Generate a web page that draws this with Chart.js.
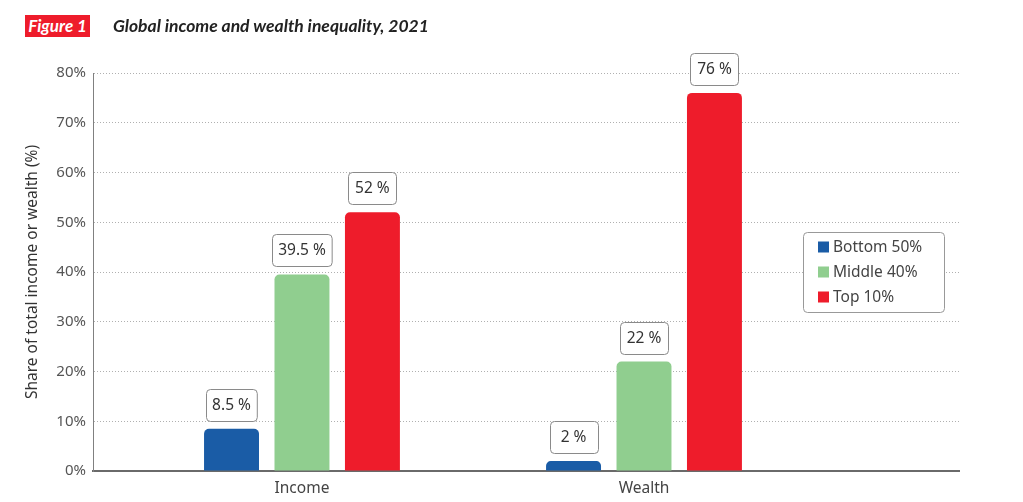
<!DOCTYPE html>
<html><head><meta charset="utf-8">
<script src="https://cdn.jsdelivr.net/npm/chart.js@4.4.0/dist/chart.umd.min.js"></script>
<style>
html,body{margin:0;padding:0;background:#fff;}
#wrap{position:relative;width:1023px;height:502px;overflow:hidden;}
canvas{position:absolute;left:0;top:0;}
#fig{position:absolute;left:25px;top:15px;width:65px;height:22px;background:#ee1c2b;color:#fff;font:italic bold 17px Lato;line-height:22px;text-align:center;}
#ttl{position:absolute;left:113px;top:15px;font:italic bold 17.5px Lato;color:#222;line-height:22px;}
</style></head>
<body><div id="wrap"><canvas id="c" width="1023" height="502"></canvas><div id="fig">Figure 1</div><div id="ttl">Global income and wealth inequality, 2021</div></div>
<script>
const categories = ['Income', 'Wealth'];
const seriesNames = ['Bottom 50%', 'Middle 40%', 'Top 10%'];
const bottom50 = [8.5, 2];
const middle40 = [39.5, 22];
const top10 = [52, 76];
const yTickValues = [0, 10, 20, 30, 40, 50, 60, 70, 80];
const seriesColors = ['#1a5ca6', '#90ce8f', '#ee1c2b'];
const seriesValues = [bottom50, middle40, top10];

Chart.defaults.font.family = "'Noto Sans', sans-serif";

const labelPlugin = {
  id: 'barLabels',
  afterDatasetsDraw(chart) {
    const ctx = chart.ctx;
    ctx.save();
    ctx.font = "15.5px 'Noto Sans'";
    ctx.textAlign = 'center';
    ctx.textBaseline = 'middle';
    chart.data.datasets.forEach((ds, di) => {
      const meta = chart.getDatasetMeta(di);
      meta.data.forEach((bar, i) => {
        const txt = ds.data[i].y + ' %';
        const w = Math.max(48, ctx.measureText(txt).width + 12);
        const h = 32;
        const bx = Math.round(bar.x - w / 2);
        const by = Math.round(bar.y - 8 - h);
        ctx.beginPath();
        ctx.roundRect(bx + 0.5, by + 0.5, w, h, 4);
        ctx.fillStyle = '#fff';
        ctx.fill();
        ctx.strokeStyle = '#8a8a8a';
        ctx.lineWidth = 1;
        ctx.stroke();
        ctx.fillStyle = '#333';
        ctx.fillText(txt, bar.x, by + h / 2 + 1);
      });
    });
    ctx.restore();
  }
};

const legendPlugin = {
  id: 'boxLegend',
  afterDraw(chart) {
    const ctx = chart.ctx;
    const a = chart.chartArea;
    const x = a.right - 156, y = a.top + 159, w = 141, h = 80;
    ctx.save();
    ctx.beginPath();
    ctx.roundRect(x + 0.5, y + 0.5, w, h, 4);
    ctx.fillStyle = '#fff';
    ctx.fill();
    ctx.strokeStyle = '#999';
    ctx.lineWidth = 1;
    ctx.stroke();
    ctx.font = "15.5px 'Noto Sans'";
    ctx.textBaseline = 'middle';
    ctx.textAlign = 'left';
    chart.data.datasets.forEach((ds, i) => {
      const cy = y + 15 + i * 25;
      ctx.fillStyle = ds.backgroundColor;
      ctx.fillRect(x + 15, cy - 5.5, 11, 11);
      ctx.fillStyle = '#444';
      ctx.fillText(ds.label, x + 30, cy + 1);
    });
    ctx.restore();
  }
};

new Chart(document.getElementById('c'), {
  type: 'bar',
  data: {
    datasets: seriesNames.map((name, s) => ({
      label: name,
      data: categories.map((c, i) => ({ x: i, y: seriesValues[s][i] })),
      backgroundColor: seriesColors[s],
      borderRadius: 5,
      borderSkipped: 'start',
      categoryPercentage: 0.618,
      barPercentage: 0.78
    }))
  },
  options: {
    responsive: false,
    animation: false,
    layout: { padding: { left: 10, right: 64, top: 73, bottom: 0 } },
    plugins: { legend: { display: false }, tooltip: { enabled: false } },
    scales: {
      x: {
        type: 'linear',
        offset: false,
        min: -0.611,
        max: 1.921,
        afterBuildTicks: s => { s.ticks = categories.map((c, i) => ({ value: i })); },
        afterFit: s => { s.height = 31; },
        ticks: {
          autoSkip: false, maxRotation: 0, padding: 8,
          color: '#444', font: { size: 15.5 },
          callback: v => categories[v] !== undefined ? categories[v] : ''
        },
        grid: { display: false, drawTicks: false, offset: false },
        border: { display: true, color: '#6a6a6a', width: 2 }
      },
      y: {
        min: 0, max: 80,
        afterBuildTicks: s => { s.ticks = yTickValues.map(v => ({ value: v })); },
        afterFit: s => { s.width = 83; },
        ticks: { padding: 7, color: '#555', font: { size: 15 }, callback: v => v + '%' },
        grid: { color: '#b0b0b0', lineWidth: 1, drawTicks: false },
        border: { display: true, color: '#808080', width: 1, dash: [1, 2] },
        title: {
          display: true, text: 'Share of total income or wealth (%)',
          color: '#333', font: { size: 15.5 }, padding: { top: 13.7, bottom: 0 }
        }
      }
    }
  },
  plugins: [labelPlugin, legendPlugin]
});
</script>
</body></html>
